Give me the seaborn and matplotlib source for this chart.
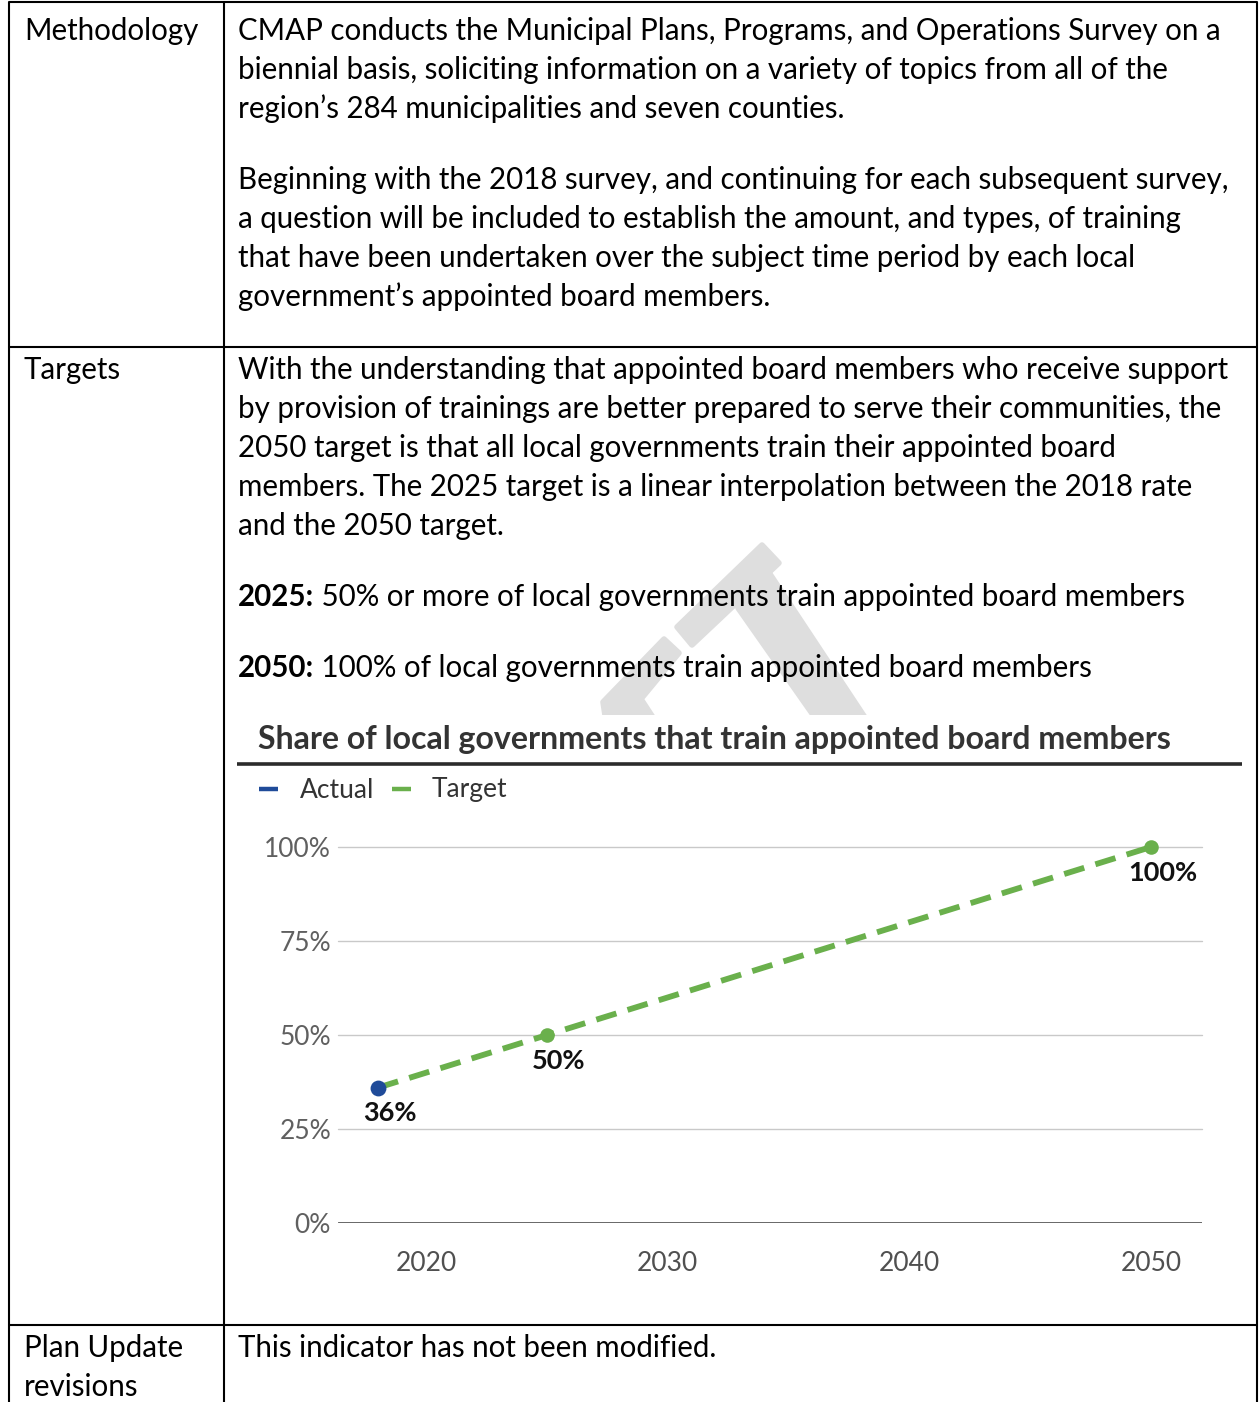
import matplotlib
matplotlib.use("Agg")
import matplotlib.pyplot as plt
import seaborn as sns
import pandas as pd
from matplotlib.patches import Polygon, Rectangle

# ---- data -------------------------------------------------------------
years_actual = [2018]
share_actual = [36]
years_target = [2018, 2025, 2050]
share_target = [36, 50, 100]
label_years = [2018, 2025, 2050]
label_values = [36, 50, 100]
y_ticks = [0, 25, 50, 75, 100]
y_tick_labels = ["0%", "25%", "50%", "75%", "100%"]
x_ticks = [2020, 2030, 2040, 2050]
x_tick_labels = ["2020", "2030", "2040", "2050"]
series_names = ["Actual", "Target"]

chart_title = "Share of local governments that train appointed board members"

methodology_lines = [
    "CMAP conducts the Municipal Plans, Programs, and Operations Survey on a",
    "biennial basis, soliciting information on a variety of topics from all of the",
    "region\u2019s 284 municipalities and seven counties.",
]
methodology_lines_2 = [
    "Beginning with the 2018 survey, and continuing for each subsequent survey,",
    "a question will be included to establish the amount, and types, of training",
    "that have been undertaken over the subject time period by each local",
    "government\u2019s appointed board members.",
]
targets_lines = [
    "With the understanding that appointed board members who receive support",
    "by provision of trainings are better prepared to serve their communities, the",
    "2050 target is that all local governments train their appointed board",
    "members. The 2025 target is a linear interpolation between the 2018 rate",
    "and the 2050 target.",
]
target_items = [
    ("2025:", " 50% or more of local governments train appointed board members"),
    ("2050:", " 100% of local governments train appointed board members"),
]

# ---- style ------------------------------------------------------------
W, H = 1259, 1402
sns.set_style("white")
plt.rcParams["font.family"] = ["Lato", "DejaVu Sans"]

BLUE = "#1f4b99"
GREEN = "#6ab04c"
BORDER = "#000000"

fig = plt.figure(figsize=(W / 100, H / 100), dpi=100)
fig.patch.set_facecolor("white")

# page layer in pixel coordinates (table, text, watermark)
page = fig.add_axes([0, 0, 1, 1], zorder=0)
page.set_xlim(0, W)
page.set_ylim(H, 0)
page.axis("off")

# faint watermark behind the body text
wm_clip = Rectangle((0, 0), W, 715, transform=page.transData)
wm_shapes = [
    [(677, 627), (762, 545), (779, 563), (692, 645)],
    [(738, 608), (770, 574), (868, 722), (818, 722)],
    [(664, 639), (679, 653), (641, 699), (656, 722), (606, 722), (603, 702)],
]
for pts in wm_shapes:
    p = Polygon(pts, closed=True, facecolor="#dedede", edgecolor="#dedede",
                lw=4, joinstyle="round", zorder=0)
    page.add_patch(p)
    p.set_clip_path(wm_clip)

# table grid
lw_tab = 1.5
page.plot([9, 1257], [2, 2], color=BORDER, lw=lw_tab, solid_capstyle="butt")
page.plot([9, 9], [2, H], color=BORDER, lw=lw_tab)
page.plot([224, 224], [2, H], color=BORDER, lw=lw_tab)
page.plot([1257, 1257], [2, H], color=BORDER, lw=lw_tab)
page.plot([9, 1257], [347, 347], color=BORDER, lw=lw_tab)
page.plot([9, 1257], [1325, 1325], color=BORDER, lw=lw_tab)

BODY = 18.0
body_texts = []
def body(x, y, s, **kw):
    t = page.text(x, y, s, fontsize=BODY, va="baseline", ha="left",
                  color="black", zorder=3, **kw)
    body_texts.append(t)
    return t

LS = 39
body(24, 40, "Methodology")
for i, s in enumerate(methodology_lines):
    body(238, 40 + i * LS, s)
for i, s in enumerate(methodology_lines_2):
    body(238, 189 + i * LS, s)
body(24, 379, "Targets")
for i, s in enumerate(targets_lines):
    body(238, 379 + i * LS, s)
for i, (b, r) in enumerate(target_items):
    bt = body(238, 606 + i * 71, b, fontweight="bold")
    rt = page.annotate(r, xy=(1, 0), xycoords=bt, va="bottom", ha="left",
                       fontsize=BODY, color="black", zorder=3)
    body_texts.append(rt)
body(24, 1357, "Plan Update")
body(24, 1396, "revisions")
body(238, 1357, "This indicator has not been modified.")

# chart title and rule
title = page.text(258, 749, chart_title, fontsize=20, fontweight="bold",
                  color="#333333", va="baseline", ha="left", zorder=3)
page.plot([237, 1242], [764, 764], color="#2b2b2b", lw=2.6, solid_capstyle="butt")

# legend
legend_y = 789
page.plot([259, 278], [legend_y, legend_y], color=BLUE, lw=3.2, solid_capstyle="butt")
page.text(300, legend_y + 1, series_names[0], fontsize=19, color="#333333",
          va="center", ha="left")
page.plot([392, 411], [legend_y, legend_y], color=GREEN, lw=3.2, solid_capstyle="butt")
page.text(432, legend_y + 1, series_names[1], fontsize=19, color="#333333",
          va="center", ha="left")

# fit body and title sizes to the text block widths
fig.canvas.draw()
r = fig.canvas.get_renderer()
w0 = body_texts[1].get_window_extent(r).width
k = 979.0 / w0
for t in body_texts:
    t.set_fontsize(BODY * k)
wt = title.get_window_extent(r).width
title.set_fontsize(20 * 912.0 / wt)

# ---- line chart ---------------------------------------------------------
x0, x1, yb, yt = 338, 1202, 1223, 847
ax = fig.add_axes([x0 / W, 1 - yb / H, (x1 - x0) / W, (yb - yt) / H], zorder=2)
ax.patch.set_alpha(0)
px_per_year = (1151 - 378) / 32.0
ax.set_xlim(2018 - (378 - x0) / px_per_year, 2050 + (x1 - 1151) / px_per_year)
ax.set_ylim(0, 100)

for v in y_ticks[1:]:
    ax.axhline(v, color="#c9c9c9", lw=1.0, zorder=1, clip_on=False)
ax.axhline(0, color="#3a3a3a", lw=1.8, zorder=1)

df_target = pd.DataFrame({"year": years_target, "share": share_target})
df_actual = pd.DataFrame({"year": years_actual, "share": share_actual})

sns.lineplot(data=df_target, x="year", y="share", ax=ax, color=GREEN, lw=4.2,
             zorder=3, clip_on=False)
ax.lines[-1].set_dashes((3.6, 2.0))
sns.scatterplot(data=df_target.iloc[1:], x="year", y="share", ax=ax, color=GREEN,
                s=110, linewidth=0, zorder=4, clip_on=False)
sns.scatterplot(data=df_actual, x="year", y="share", ax=ax, color=BLUE,
                s=130, linewidth=0, zorder=5, clip_on=False)

for yr, v in zip(label_years, label_values):
    ax.annotate(f"{v}%", xy=(yr, v), xytext=(8.5, -18.5), textcoords="offset points",
                ha="center", va="center", fontsize=19.5, fontweight="bold",
                color="#111111", zorder=6, annotation_clip=False)

ax.set_xticks(x_ticks)
ax.set_xticklabels(x_tick_labels)
ax.set_yticks(y_ticks)
ax.set_yticklabels(y_tick_labels)
ax.tick_params(axis="x", length=0, pad=20, labelsize=19, labelcolor="#505050")
ax.tick_params(axis="y", length=0, pad=5, labelsize=19, labelcolor="#606060")
ax.set_xlabel("")
ax.set_ylabel("")
for sp in ax.spines.values():
    sp.set_visible(False)
if ax.get_legend() is not None:
    ax.get_legend().remove()

fig.savefig("out.png", dpi=100, facecolor="white")
